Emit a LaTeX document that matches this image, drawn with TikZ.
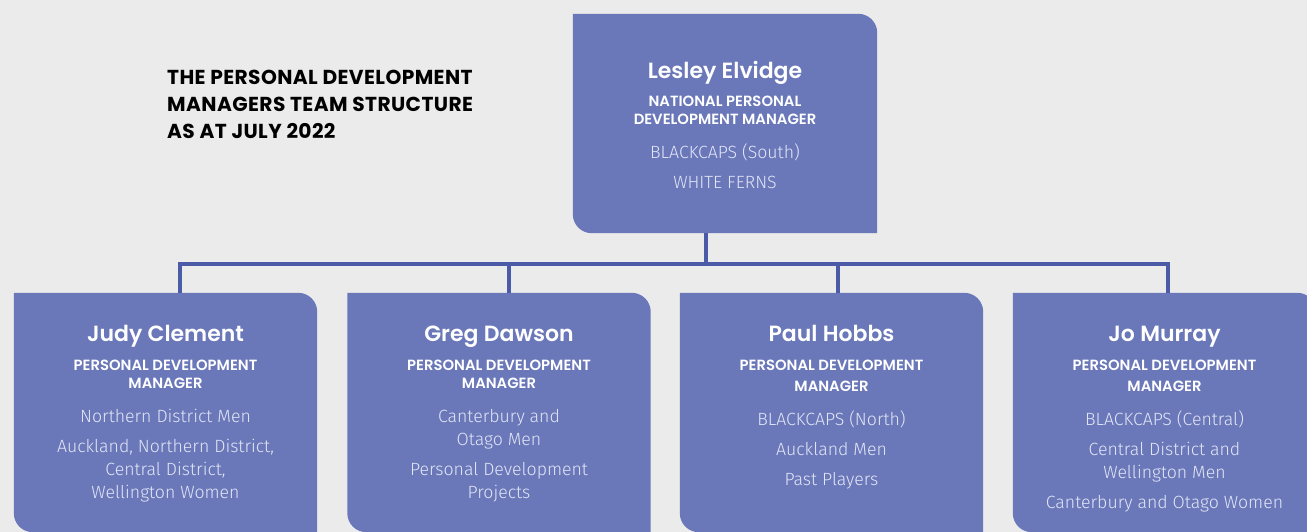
\documentclass[tikz,border=0pt]{standalone}
\usepackage{fontspec}
\usepackage{tikz}
\usetikzlibrary{calc}
\usetikzlibrary{positioning}

\newfontfamily\headfont{Poppins SemiBold}
\newfontfamily\titlefont{Poppins Bold}[LetterSpace=2]
\newfontfamily\bodyfont{Fira Sans Light}

\definecolor{pagebg}{HTML}{EBEBEB}
\definecolor{cardcol}{HTML}{6A78B9}
\definecolor{linkcol}{HTML}{4B5BA8}
\definecolor{teamcol}{HTML}{E2E5F6}

% card with rounded top-right and bottom-left corners
\newcommand{\cardfill}[1]{%
  \fill[cardcol] (#1.north west)
    -- ([xshift=-19pt]#1.north east)
    .. controls ([xshift=-8.5pt]#1.north east) and ([yshift=-8.5pt]#1.north east) .. ([yshift=-19pt]#1.north east)
    -- (#1.south east)
    -- ([xshift=19pt]#1.south west)
    .. controls ([xshift=8.5pt]#1.south west) and ([yshift=8.5pt]#1.south west) .. ([yshift=19pt]#1.south west)
    -- cycle;}

\begin{document}
\begin{tikzpicture}[
  x=1pt, y=-1pt,
  line join=miter,
  card/.style={rectangle, inner sep=0pt, minimum width=303pt, minimum height=239pt},
  person/.style={anchor=base, inner sep=0pt, text=white, font=\headfont\fontsize{22}{26}\selectfont},
  role/.style={anchor=north, inner sep=0pt, align=center, text=white, font=\headfont\fontsize{14.8}{18}\selectfont},
  teams/.style={anchor=north, inner sep=0pt, align=center, text=teamcol, font=\bodyfont\fontsize{17.7}{23}\selectfont},
  link/.style={draw=linkcol, line width=3.5pt}
]
\useasboundingbox (0,0) rectangle (1307,532);
\fill[pagebg] (0,0) rectangle (1307,532);
\clip (0,0) rectangle (1307,532);

% title
\node[anchor=north west, inner sep=0pt, align=left, text=black,
  font=\titlefont\fontsize{20.2}{27}\selectfont] (title) at (167,68)
  {\rule{0pt}{16pt}THE PERSONAL DEVELOPMENT\\MANAGERS TEAM STRUCTURE\\AS AT JULY 2022};

% cards
\node[card, minimum width=304pt, minimum height=219pt] (lesley) at (725,123.5) {};
\node[card] (judy) at (165.5,412.5) {};
\node[card] (greg) at (499,412.5) {};
\node[card] (paul) at (831.5,412.5) {};
\node[card] (jo)   at (1164.5,412.5) {};
\cardfill{lesley}
\cardfill{judy}
\cardfill{greg}
\cardfill{paul}
\cardfill{jo}

% connectors
\coordinate (lesleyout) at ([xshift=-19pt]lesley.south);
\coordinate (busrow) at (0,264);
\coordinate (judyin) at ([xshift=14.5pt]judy.north);
\coordinate (gregin) at ([xshift=10pt]greg.north);
\coordinate (paulin) at ([xshift=6.5pt]paul.north);
\coordinate (join)   at ([xshift=3.5pt]jo.north);
\draw[link] (lesleyout) -- (lesleyout |- busrow);
\draw[link] (judyin) |- (join |- busrow) -- (join);
\draw[link] (gregin) -- (gregin |- busrow);
\draw[link] (paulin) -- (paulin |- busrow);

% national manager
\node[person] (lesleyname) at (725,79) {Lesley Elvidge};
\node[role] (lesleyrole) at (725,94) {\rule{0pt}{12pt}NATIONAL PERSONAL\\DEVELOPMENT MANAGER};
\node[teams] (lesleyteams) at (725,142) {\rule{0pt}{16pt}BLACKCAPS (South)\\[7pt]WHITE FERNS};

% managers
\node[person] (judyname) at (165.5,341) {Judy Clement};
\node[role] (judyrole) at (165.5,358) {\rule{0pt}{12pt}PERSONAL DEVELOPMENT\\MANAGER};
\node[teams] (judyteams) at (165.5,406) {\rule{0pt}{16pt}Northern District Men\\[7pt]Auckland, Northern District,\\Central District,\\Wellington Women};

\node[person] (gregname) at (499,341) {Greg Dawson};
\node[role] (gregrole) at (499,358) {\rule{0pt}{12pt}PERSONAL DEVELOPMENT\\MANAGER};
\node[teams] (gregteams) at (499,406) {\rule{0pt}{16pt}Canterbury and\\Otago Men\\[7pt]Personal Development\\Projects};

\node[person] (paulname) at (831.5,341) {Paul Hobbs};
\node[role] (paulrole) at (831.5,358) {\rule{0pt}{12pt}PERSONAL DEVELOPMENT\\[3pt]MANAGER};
\node[teams] (paulteams) at (831.5,409) {\rule{0pt}{16pt}BLACKCAPS (North)\\[7pt]Auckland Men\\[7pt]Past Players};

\node[person] (joname) at (1164.5,341) {Jo Murray};
\node[role] (jorole) at (1164.5,358) {\rule{0pt}{12pt}PERSONAL DEVELOPMENT\\[3pt]MANAGER};
\node[teams] (joteams) at (1164.5,409) {\rule{0pt}{16pt}BLACKCAPS (Central)\\[7pt]Central District and\\Wellington Men\\[7pt]Canterbury and Otago Women};

\end{tikzpicture}
\end{document}
